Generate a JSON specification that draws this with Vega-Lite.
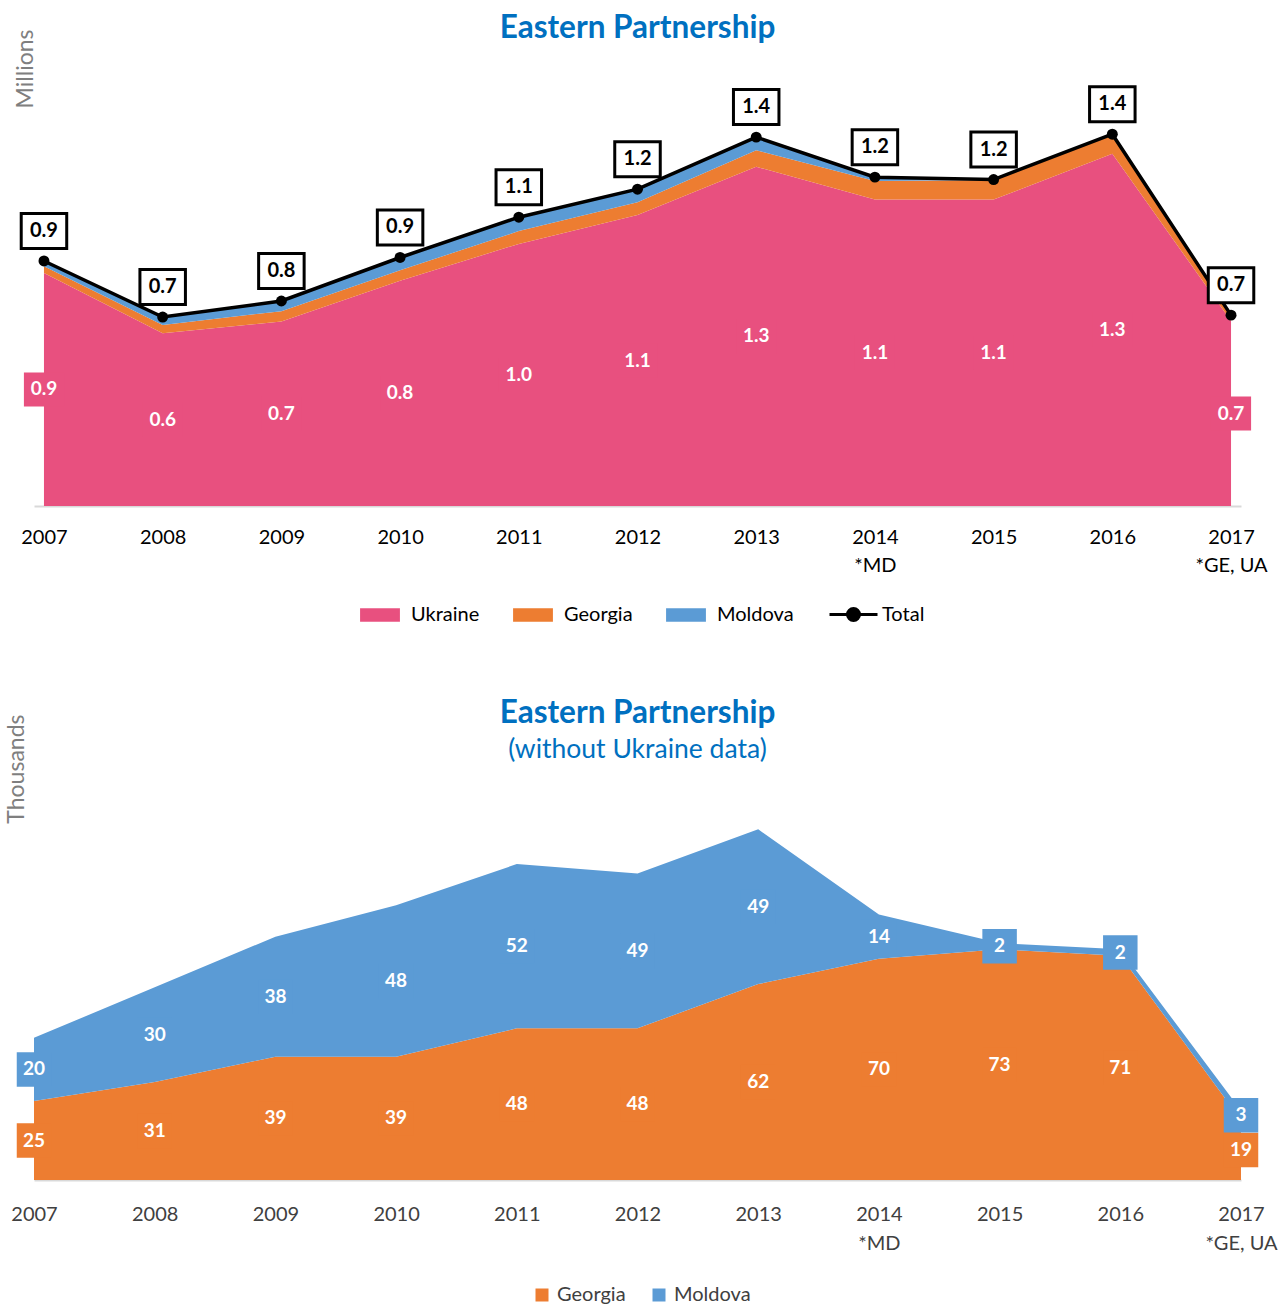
{
  "$schema": "https://vega.github.io/schema/vega-lite/v6.json",
  "padding": {"left": 5, "top": 12, "right": 0, "bottom": 0},
  "spacing": 71,
  "config": {"view": {"stroke": null}, "font": "Lato", "legend": {"padding": 0}},
  "resolve": {"scale": {"color": "independent", "stroke": "independent"}, "legend": {"color": "independent", "stroke": "independent"}},
  "datasets": {
    "top": [
      {"year": "2007", "country": "Ukraine", "value": 0.873},
      {"year": "2008", "country": "Ukraine", "value": 0.647},
      {"year": "2009", "country": "Ukraine", "value": 0.691},
      {"year": "2010", "country": "Ukraine", "value": 0.844},
      {"year": "2011", "country": "Ukraine", "value": 0.982},
      {"year": "2012", "country": "Ukraine", "value": 1.090},
      {"year": "2013", "country": "Ukraine", "value": 1.271},
      {"year": "2014", "country": "Ukraine", "value": 1.148},
      {"year": "2015", "country": "Ukraine", "value": 1.148},
      {"year": "2016", "country": "Ukraine", "value": 1.320},
      {"year": "2017", "country": "Ukraine", "value": 0.693},
      {"year": "2007", "country": "Georgia", "value": 0.025},
      {"year": "2008", "country": "Georgia", "value": 0.031},
      {"year": "2009", "country": "Georgia", "value": 0.039},
      {"year": "2010", "country": "Georgia", "value": 0.039},
      {"year": "2011", "country": "Georgia", "value": 0.048},
      {"year": "2012", "country": "Georgia", "value": 0.048},
      {"year": "2013", "country": "Georgia", "value": 0.062},
      {"year": "2014", "country": "Georgia", "value": 0.070},
      {"year": "2015", "country": "Georgia", "value": 0.073},
      {"year": "2016", "country": "Georgia", "value": 0.071},
      {"year": "2017", "country": "Georgia", "value": 0.019},
      {"year": "2007", "country": "Moldova", "value": 0.020},
      {"year": "2008", "country": "Moldova", "value": 0.030},
      {"year": "2009", "country": "Moldova", "value": 0.038},
      {"year": "2010", "country": "Moldova", "value": 0.048},
      {"year": "2011", "country": "Moldova", "value": 0.052},
      {"year": "2012", "country": "Moldova", "value": 0.049},
      {"year": "2013", "country": "Moldova", "value": 0.049},
      {"year": "2014", "country": "Moldova", "value": 0.014},
      {"year": "2015", "country": "Moldova", "value": 0.002},
      {"year": "2016", "country": "Moldova", "value": 0.002},
      {"year": "2017", "country": "Moldova", "value": 0.003}
    ],
    "bottom": [
      {"year": "2007", "country": "Georgia", "value": 25},
      {"year": "2008", "country": "Georgia", "value": 31},
      {"year": "2009", "country": "Georgia", "value": 39},
      {"year": "2010", "country": "Georgia", "value": 39},
      {"year": "2011", "country": "Georgia", "value": 48},
      {"year": "2012", "country": "Georgia", "value": 48},
      {"year": "2013", "country": "Georgia", "value": 62},
      {"year": "2014", "country": "Georgia", "value": 70},
      {"year": "2015", "country": "Georgia", "value": 73},
      {"year": "2016", "country": "Georgia", "value": 71},
      {"year": "2017", "country": "Georgia", "value": 19},
      {"year": "2007", "country": "Moldova", "value": 20},
      {"year": "2008", "country": "Moldova", "value": 30},
      {"year": "2009", "country": "Moldova", "value": 38},
      {"year": "2010", "country": "Moldova", "value": 48},
      {"year": "2011", "country": "Moldova", "value": 52},
      {"year": "2012", "country": "Moldova", "value": 49},
      {"year": "2013", "country": "Moldova", "value": 49},
      {"year": "2014", "country": "Moldova", "value": 14},
      {"year": "2015", "country": "Moldova", "value": 2},
      {"year": "2016", "country": "Moldova", "value": 2},
      {"year": "2017", "country": "Moldova", "value": 3}
    ]
  },
  "vconcat": [
    {
      "width": 1207,
      "height": 477,
      "title": {"text": "Eastern Partnership", "font": "Lato", "fontSize": 31.5, "fontWeight": "bold", "color": "#0070C0", "frame": "group", "anchor": "middle", "offset": -15},
      "data": {"name": "top"},
      "transform": [{"calculate": "indexof(['Ukraine','Georgia','Moldova'], datum.country)", "as": "o"}],
      "encoding": {
        "x": {
          "field": "year", "type": "ordinal",
          "scale": {"type": "point", "padding": 0.084},
          "axis": {
            "title": null, "labelAngle": 0, "ticks": false, "domainColor": "#D9D9D9", "domainWidth": 2,
            "labelFont": "Lato", "labelFontSize": 20, "labelColor": "#000000", "labelPadding": 31,
            "labelBaseline": "middle", "labelLineHeight": 28,
            "labelExpr": "datum.value == '2014' ? ['2014', '*MD'] : datum.value == '2017' ? ['2017', '*GE, UA'] : datum.value"
          }
        }
      },
      "layer": [
        {
          "mark": {"type": "area"},
          "encoding": {
            "y": {
              "field": "value", "type": "quantitative", "stack": "zero",
              "scale": {"domain": [0, 1.787]},
              "axis": {"title": "Millions", "labels": false, "ticks": false, "domain": false, "grid": false,
                "titleFont": "Lato", "titleFontSize": 23, "titleFontWeight": "normal", "titleColor": "#7F7F7F",
                "titleX": -9, "titleY": 0, "titleAlign": "right", "titleBaseline": "middle", "titleAngle": 270}
            },
            "color": {
              "field": "country", "type": "nominal",
              "scale": {"domain": ["Ukraine", "Georgia", "Moldova"], "range": ["#E8507F", "#ED7D31", "#5B9BD5"]},
              "legend": {"orient": "none", "legendX": 322, "legendY": 562, "direction": "horizontal", "title": null,
                "symbolType": "M-0.83,-0.28L0.83,-0.28L0.83,0.28L-0.83,0.28Z", "symbolSize": 2304, "symbolStrokeWidth": 0,
                "labelFont": "Lato", "labelFontSize": 20, "labelColor": "#000000", "labelOffset": 7, "columnPadding": 29}
            },
            "order": {"field": "o", "type": "quantitative"}
          }
        },
        {
          "transform": [{"filter": "datum.country == 'Ukraine'"}, {"calculate": "datum.value / 2", "as": "mid"}],
          "layer": [
            {
              "mark": {"type": "point", "shape": "M-1.18,-1L1.18,-1L1.18,1L-1.18,1Z", "filled": true, "color": "#E8507F", "opacity": 1, "size": 1156},
              "encoding": {"y": {"field": "mid", "type": "quantitative", "scale": {"domain": [0, 1.787]},
                "axis": {"title": "Millions", "labels": false, "ticks": false, "domain": false, "grid": false,
                "titleFont": "Lato", "titleFontSize": 23, "titleFontWeight": "normal", "titleColor": "#7F7F7F",
                "titleX": -9, "titleY": 0, "titleAlign": "right", "titleBaseline": "middle", "titleAngle": 270}}}
            },
            {
              "mark": {"type": "text", "color": "#FFFFFF", "font": "Lato", "fontSize": 19, "fontWeight": "bold", "baseline": "middle"},
              "encoding": {
                "y": {"field": "mid", "type": "quantitative", "scale": {"domain": [0, 1.787]},
                "axis": {"title": "Millions", "labels": false, "ticks": false, "domain": false, "grid": false,
                "titleFont": "Lato", "titleFontSize": 23, "titleFontWeight": "normal", "titleColor": "#7F7F7F",
                "titleX": -9, "titleY": 0, "titleAlign": "right", "titleBaseline": "middle", "titleAngle": 270}},
                "text": {"field": "value", "type": "quantitative", "format": ".1f"}
              }
            }
          ]
        },
        {
          "transform": [{"aggregate": [{"op": "sum", "field": "value", "as": "total"}], "groupby": ["year"]}],
          "encoding": {
            "y": {"field": "total", "type": "quantitative", "scale": {"domain": [0, 1.787]},
              "axis": {"title": "Millions", "labels": false, "ticks": false, "domain": false, "grid": false,
              "titleFont": "Lato", "titleFontSize": 23, "titleFontWeight": "normal", "titleColor": "#7F7F7F",
              "titleX": -9, "titleY": 0, "titleAlign": "right", "titleBaseline": "middle", "titleAngle": 270}}
          },
          "layer": [
            {
              "mark": {"type": "line", "strokeWidth": 3.5},
              "encoding": {
                "stroke": {"datum": "Total", "type": "nominal", "scale": {"range": ["#000000"]},
                  "legend": {"orient": "none", "legendX": 794, "legendY": 560, "direction": "horizontal", "title": null,
                    "symbolType": "M-1,0L1,0M0.25,0A0.25,0.25,0,1,1,-0.25,0A0.25,0.25,0,1,1,0.25,0",
                    "symbolSize": 2304, "symbolStrokeWidth": 3, "symbolFillColor": "#000000", "symbolStrokeColor": "#000000",
                    "labelFont": "Lato", "labelFontSize": 20, "labelColor": "#000000", "labelOffset": 3}
                }
              }
            },
            {
              "mark": {"type": "circle", "color": "#000000", "opacity": 1, "size": 120}
            },
            {
              "mark": {"type": "point", "shape": "M-1.3,-1L1.3,-1L1.3,1L-1.3,1Z", "filled": false, "fill": "#FFFFFF", "stroke": "#000000", "strokeWidth": 3, "opacity": 1, "size": 1225, "yOffset": -30}
            },
            {
              "mark": {"type": "text", "color": "#000000", "font": "Lato", "fontSize": 20, "fontWeight": "bold", "baseline": "middle", "yOffset": -30},
              "encoding": {
                "text": {"field": "total", "type": "quantitative", "format": ".1f"}
              }
            }
          ]
        }
      ]
    },
    {
      "width": 1207,
      "height": 466,
      "title": {"text": "Eastern Partnership", "subtitle": "(without Ukraine data)", "font": "Lato", "fontSize": 31.5, "fontWeight": "bold", "color": "#0070C0",
        "subtitleFont": "Lato", "subtitleFontSize": 26.5, "subtitleColor": "#0070C0", "subtitlePadding": 7, "frame": "group", "anchor": "middle", "offset": -49},
      "data": {"name": "bottom"},
      "transform": [
        {"calculate": "indexof(['Georgia','Moldova'], datum.country)", "as": "o"},
        {"stack": "value", "groupby": ["year"], "sort": [{"field": "o", "order": "ascending"}], "as": ["v0", "v1"]},
        {"calculate": "(datum.v0 + datum.v1) / 2", "as": "mid"}
      ],
      "encoding": {
        "x": {
          "field": "year", "type": "ordinal",
          "scale": {"type": "point", "padding": 0},
          "axis": {
            "title": null, "labelAngle": 0, "ticks": false, "domainColor": "#D9D9D9", "domainWidth": 2,
            "labelFont": "Lato", "labelFontSize": 20, "labelColor": "#404040", "labelPadding": 34,
            "labelBaseline": "middle", "labelLineHeight": 29,
            "labelExpr": "datum.value == '2014' ? ['2014', '*MD'] : datum.value == '2017' ? ['2017', '*GE, UA'] : datum.value"
          }
        }
      },
      "layer": [
        {
          "mark": {"type": "area"},
          "encoding": {
            "y": {
              "field": "v1", "type": "quantitative",
              "scale": {"domain": [0, 147.5]},
              "axis": {"title": "Thousands", "labels": false, "ticks": false, "domain": false, "grid": false,
                "titleFont": "Lato", "titleFontSize": 23, "titleFontWeight": "normal", "titleColor": "#7F7F7F",
                "titleX": -18, "titleY": 0, "titleAlign": "right", "titleBaseline": "middle", "titleAngle": 270}
            },
            "y2": {"field": "v0"},
            "color": {
              "field": "country", "type": "nominal",
              "scale": {"domain": ["Georgia", "Moldova"], "range": ["#ED7D31", "#5B9BD5"]},
              "legend": {"orient": "none", "legendX": 498, "legendY": 571, "direction": "horizontal", "title": null,
                "symbolType": "square", "symbolSize": 169, "symbolStrokeWidth": 0,
                "labelFont": "Lato", "labelFontSize": 20, "labelColor": "#404040", "labelOffset": 5, "columnPadding": 23}
            },
            "order": {"field": "o", "type": "quantitative"}
          }
        },
        {
          "mark": {"type": "square", "opacity": 1, "size": 1190},
          "encoding": {
            "y": {"field": "mid", "type": "quantitative", "scale": {"domain": [0, 147.5]},
              "axis": {"title": "Thousands", "labels": false, "ticks": false, "domain": false, "grid": false,
                "titleFont": "Lato", "titleFontSize": 23, "titleFontWeight": "normal", "titleColor": "#7F7F7F",
                "titleX": -18, "titleY": 0, "titleAlign": "right", "titleBaseline": "middle", "titleAngle": 270}},
            "color": {"field": "country", "type": "nominal", "legend": null}
          }
        },
        {
          "mark": {"type": "text", "color": "#FFFFFF", "font": "Lato", "fontSize": 19, "fontWeight": "bold", "baseline": "middle"},
          "encoding": {
            "y": {"field": "mid", "type": "quantitative", "scale": {"domain": [0, 147.5]},
              "axis": {"title": "Thousands", "labels": false, "ticks": false, "domain": false, "grid": false,
                "titleFont": "Lato", "titleFontSize": 23, "titleFontWeight": "normal", "titleColor": "#7F7F7F",
                "titleX": -18, "titleY": 0, "titleAlign": "right", "titleBaseline": "middle", "titleAngle": 270}},
            "text": {"field": "value", "type": "quantitative", "format": "d"}
          }
        }
      ]
    }
  ]
}
